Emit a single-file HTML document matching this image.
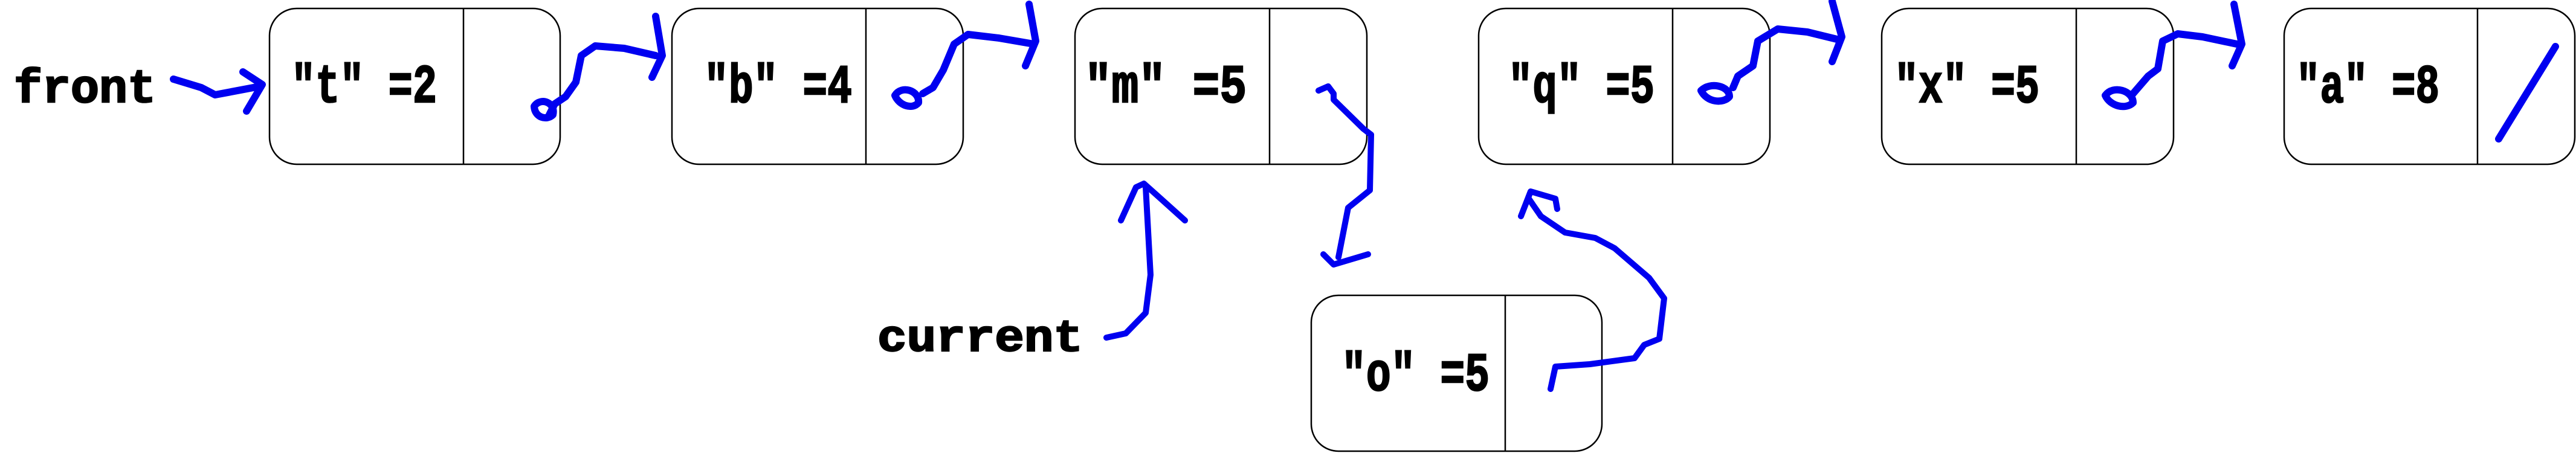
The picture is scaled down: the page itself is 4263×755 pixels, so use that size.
<!DOCTYPE html>
<html><head><meta charset="utf-8"><style>
html,body{margin:0;padding:0;background:#fff;}
svg{display:block;}
text{font-family:"Liberation Mono",monospace;font-weight:bold;fill:#000;stroke:#000;stroke-width:2.5;}
</style></head><body>
<svg width="4263" height="755" viewBox="0 0 4263 755" xmlns="http://www.w3.org/2000/svg">
<g fill="#fff" stroke="#000" stroke-width="2.5">
<rect x="446" y="14" width="481" height="258" rx="45" ry="45"/>
<line x1="767" y1="14" x2="767" y2="272"/>
<rect x="1112" y="14" width="482" height="258" rx="45" ry="45"/>
<line x1="1433" y1="14" x2="1433" y2="272"/>
<rect x="1779" y="14" width="483" height="258" rx="45" ry="45"/>
<line x1="2101" y1="14" x2="2101" y2="272"/>
<rect x="2447" y="14" width="482" height="258" rx="45" ry="45"/>
<line x1="2768" y1="14" x2="2768" y2="272"/>
<rect x="3114" y="14" width="483" height="258" rx="45" ry="45"/>
<line x1="3436" y1="14" x2="3436" y2="272"/>
<rect x="3780" y="14" width="481" height="258" rx="45" ry="45"/>
<line x1="4100" y1="14" x2="4100" y2="272"/>
<rect x="2170" y="489" width="481" height="258" rx="45" ry="45"/>
<line x1="2491" y1="489" x2="2491" y2="747"/>
</g>
<g font-size="90">
<text x="482" y="169" textLength="241" lengthAdjust="spacingAndGlyphs">"t" =2</text>
<text x="1165" y="169" textLength="245" lengthAdjust="spacingAndGlyphs">"b" =4</text>
<text x="1795" y="169" textLength="268" lengthAdjust="spacingAndGlyphs">"m" =5</text>
<text x="2496" y="169" textLength="242" lengthAdjust="spacingAndGlyphs">"q" =5</text>
<text x="3135" y="169" textLength="240" lengthAdjust="spacingAndGlyphs">"x" =5</text>
<text x="3800" y="169" textLength="237" lengthAdjust="spacingAndGlyphs">"a" =8</text>
<text x="2220" y="646" textLength="245" lengthAdjust="spacingAndGlyphs">"o" =5</text>
</g>
<text x="23" y="169" font-size="78" textLength="235" lengthAdjust="spacingAndGlyphs">front</text>
<text x="1452" y="581" font-size="74" textLength="340" lengthAdjust="spacingAndGlyphs">current</text>
<g fill="none" stroke="#0000f0" stroke-width="12" stroke-linecap="round" stroke-linejoin="round">
<polyline points="287,131 333,145 356,157 430,143"/>
<polyline points="402,119 434,140 408,184"/>
<polyline points="907,194 918,172 936,160 953,136 962,92 985,76 1033,80 1085,92"/>
<polyline points="1085,27 1096,92 1079,128"/>
<path d="M884,176 C895,160 920,170 915,190 C905,200 885,195 884,176 Z"/>
<polyline points="1527,155 1544,145 1561,116 1579,73 1602,57 1653,63 1711,73"/>
<polyline points="1703,7 1714,68 1697,109"/>
<path d="M1481,158 C1492,140 1522,150 1520,170 C1510,182 1488,175 1481,158 Z"/>
<polyline stroke-width="10" points="2182,150 2198,143 2207,155 2207,165 2256,213 2269,223 2267,315 2231,344 2215,426"/>
<polyline stroke-width="10" points="2190,421 2207,438 2264,421"/>
<polyline stroke-width="10" points="1831,559 1863,552 1896,518 1904,455 1896,310"/>
<polyline stroke-width="10" points="1855,365 1880,310 1893,304 1921,329 1961,365"/>
<polyline stroke-width="10" points="2566,644 2574,607 2631,603 2705,593 2721,571 2746,561 2754,494 2729,460 2672,411 2640,394 2590,385 2550,358 2530,329"/>
<polyline stroke-width="10" points="2517,358 2533,317 2574,329 2577,346"/>
<polyline points="2868,145 2876,126 2901,109 2909,68 2942,48 2991,53 3040,65"/>
<polyline points="3032,2 3048,61 3032,102"/>
<path d="M2815,150 C2830,135 2862,142 2862,160 C2852,172 2825,170 2815,150 Z"/>
<polyline points="3530,155 3555,126 3571,114 3579,68 3604,56 3645,61 3702,73"/>
<polyline points="3697,7 3710,73 3694,109"/>
<path d="M3484,158 C3497,140 3530,150 3530,170 C3518,182 3492,176 3484,158 Z"/>
<line x1="4135" y1="230" x2="4229" y2="77"/>
</g>
</svg>
</body></html>
